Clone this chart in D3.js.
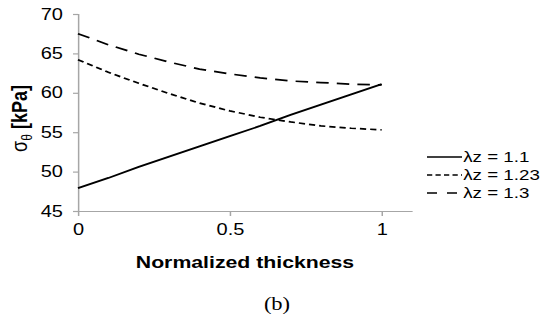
<!DOCTYPE html>
<html>
<head>
<meta charset="utf-8">
<script src="https://cdn.jsdelivr.net/npm/d3@7"></script>
<style>
  body { margin: 0; background: #fff; }
  svg { display: block; }
</style>
</head>
<body>
<div id="main"></div>
<script>
// chart data
const thickness = [0, 0.1, 0.2, 0.3, 0.4, 0.5, 0.6, 0.7, 0.8, 0.9, 1];
const lz110 = [47.9, 49.2, 50.6, 51.9, 53.2, 54.5, 55.8, 57.2, 58.5, 59.8, 61.1];
const lz123 = [64.2, 62.6, 61.2, 59.9, 58.7, 57.7, 56.9, 56.3, 55.8, 55.5, 55.3];
const lz130 = [67.5, 66.1, 64.9, 63.9, 63.0, 62.4, 61.9, 61.5, 61.3, 61.1, 61.0];
const seriesNames = ['\u03bbz = 1.1', '\u03bbz = 1.23', '\u03bbz = 1.3'];
const xTicks = [0, 0.5, 1];
const yTicks = [45, 50, 55, 60, 65, 70];

// the original picture is stretched horizontally, so draw in a narrower
// coordinate system and let the viewBox stretch it
const stretch = 1.25;
const width = 549, height = 324;
const vbWidth = width / stretch;

const margin = { left: 78 / stretch, right: vbWidth - 412 / stretch, top: 14, bottom: height - 211 };

const svg = d3.select('#main')
    .append('svg')
    .attr('width', width)
    .attr('height', height)
    .attr('viewBox', `0 0 ${vbWidth} ${height}`)
    .attr('preserveAspectRatio', 'none');

const xScale = d3.scaleLinear()
    .domain([0, 1.1])
    .range([margin.left, vbWidth - margin.right]);

const yScale = d3.scaleLinear()
    .domain([45, 70])
    .range([height - margin.bottom, margin.top]);

const axisColor = '#a6a6a6';
const font = 'Arial, "Liberation Sans", sans-serif';

// axes
const xAxis = svg.append('g')
    .attr('transform', `translate(0, ${height - margin.bottom})`)
    .call(d3.axisBottom(xScale)
        .tickValues(xTicks)
        .tickFormat(d3.format('~g'))
        .tickSize(5)
        .tickSizeOuter(0)
        .tickPadding(8));

const yAxis = svg.append('g')
    .attr('transform', `translate(${margin.left}, 0)`)
    .call(d3.axisLeft(yScale)
        .tickValues(yTicks)
        .tickSize(5 / stretch)
        .tickPadding(8));

[xAxis, yAxis].forEach(a => {
    a.select('.domain').attr('stroke', axisColor).attr('stroke-width', 1.2);
    a.selectAll('.tick line').attr('stroke', axisColor).attr('stroke-width', 1.2);
    a.selectAll('.tick text')
        .attr('fill', '#000')
        .style('font-family', font)
        .style('font-size', '16px');
});

// lines
const series = [
    { values: lz110, dash: null },
    { values: lz123, dash: '5,3.2' },
    { values: lz130, dash: '10,6.5' }
];

const line = d3.line()
    .x((d, i) => xScale(thickness[i]))
    .y(d => yScale(d));

svg.selectAll('path.series')
    .data(series)
    .enter()
    .append('path')
    .attr('class', 'series')
    .attr('fill', 'none')
    .attr('stroke', '#000')
    .attr('stroke-width', 1.7)
    .attr('stroke-dasharray', d => d.dash)
    .attr('d', d => line(d.values));

// legend
const legendX = 427 / stretch;
const legendRows = [157, 175, 193];
const legend = svg.selectAll('g.legend')
    .data(series)
    .enter()
    .append('g')
    .attr('class', 'legend')
    .attr('transform', (d, i) => `translate(${legendX}, ${legendRows[i]})`);

legend.append('line')
    .attr('x1', 0)
    .attr('x2', 28)
    .attr('stroke', '#000')
    .attr('stroke-width', 1.7)
    .attr('stroke-dasharray', (d, i) => i === 0 ? null : (i === 1 ? '4.2,2.6' : '8,8'));

legend.append('text')
    .attr('x', 29)
    .attr('dy', '0.35em')
    .style('font-family', font)
    .style('font-size', '15px')
    .text((d, i) => seriesNames[i]);

// axis titles
svg.append('text')
    .attr('x', (xScale(0) + xScale(1.1)) / 2)
    .attr('y', 268)
    .attr('text-anchor', 'middle')
    .style('font-family', font)
    .style('font-weight', 'bold')
    .style('font-size', '17px')
    .text('Normalized thickness');

const yTitle = svg.append('text')
    .attr('transform', `translate(${27 / stretch}, ${(yScale(45) + yScale(70)) / 2 + 6}) rotate(-90)`)
    .attr('text-anchor', 'middle')
    .style('font-family', font)
    .style('font-weight', 'bold')
    .style('font-size', '18px');
yTitle.append('tspan').style('font-weight', 'normal').text('\u03c3');
yTitle.append('tspan').attr('dy', 4).style('font-size', '12px').style('font-weight', 'normal').text('\u03b8');
yTitle.append('tspan').attr('dy', -4).text(' [kPa]');

// caption
svg.append('text')
    .attr('x', 277 / stretch)
    .attr('y', 310)
    .attr('text-anchor', 'middle')
    .style('font-family', '"Liberation Serif", serif')
    .style('font-size', '18px')
    .text('(b)');
</script>
</body>
</html>
